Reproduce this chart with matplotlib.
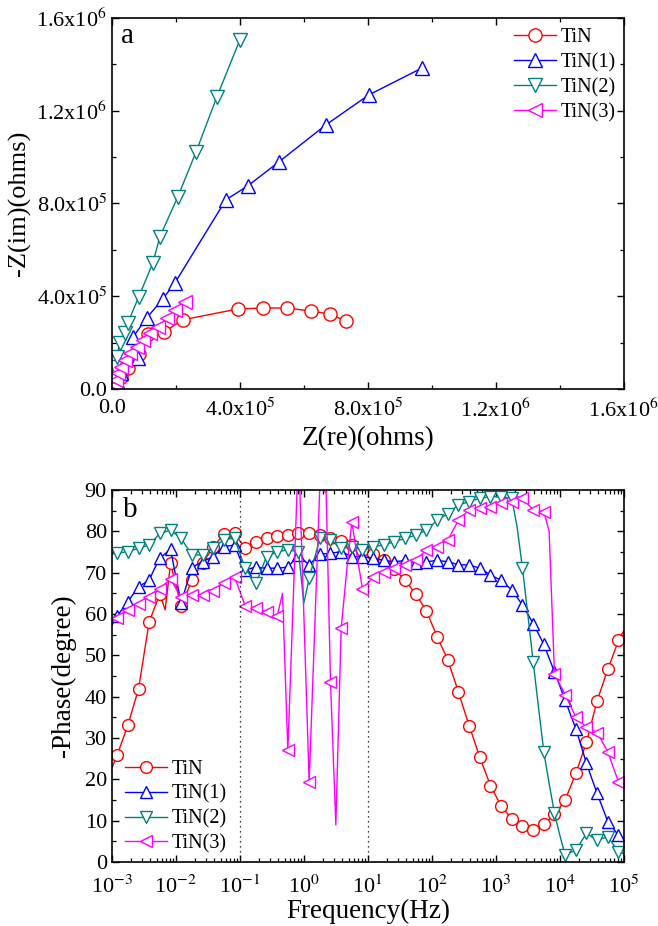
import matplotlib.pyplot as plt
import numpy as np
from matplotlib.ticker import FixedLocator, MultipleLocator, FuncFormatter, LogLocator, NullFormatter

plt.rcParams['font.family'] = ['Liberation Serif', 'DejaVu Serif']
plt.rcParams['mathtext.fontset'] = 'stix'

labels = ["TiN", "TiN(1)", "TiN(2)", "TiN(3)"]
colors = ["#FF0000", "#0000FF", "#008080", "#FF00FF"]
markers = ["o", "^", "v", "<"]

# ---- (a) Nyquist data, in units of 1e5 ohm ----
zre_tin = [0.05, 0.12, 0.28, 0.50, 0.84, 1.13, 1.63, 2.22, 3.94, 4.72, 5.47, 6.22, 6.81, 7.31]
zim_tin = [0.11, 0.26, 0.52, 0.90, 1.51, 2.37, 2.46, 2.98, 3.45, 3.49, 3.49, 3.36, 3.23, 2.93]
zre_tin1 = [0.05, 0.15, 0.30, 0.81, 0.66, 1.09, 1.59, 1.97, 3.56, 4.25, 5.22, 6.69, 8.03, 9.69]
zim_tin1 = [0.10, 0.35, 0.70, 1.34, 2.24, 3.06, 3.88, 4.57, 8.15, 8.76, 9.79, 11.39, 12.68, 13.84]
zre_tin2 = [0.02, 0.05, 0.09, 0.15, 0.25, 0.41, 0.50, 0.84, 1.28, 1.50, 2.06, 2.63, 3.28, 4.00]
zim_tin2 = [0.30, 0.60, 0.96, 1.39, 1.97, 2.40, 2.85, 3.97, 5.43, 6.56, 8.28, 10.22, 12.59, 15.05]
zre_tin3 = [0.01, 0.02, 0.03, 0.06, 0.09, 0.12, 0.19, 0.28, 0.41, 0.56, 0.78, 0.97, 1.19, 1.44, 1.72, 1.97, 2.28]
zim_tin3 = [0.01, 0.02, 0.04, 0.08, 0.17, 0.39, 0.69, 0.95, 1.25, 1.55, 1.81, 2.11, 2.42, 2.67, 3.06, 3.41, 3.75]

ticks_a = [0, 4e5, 8e5, 1.2e6, 1.6e6]
ticklabels_a = ["0.0", "4.0x10$^{5}$", "8.0x10$^{5}$", "1.2x10$^{6}$", "1.6x10$^{6}$"]

# ---- (b) Bode phase data: 12 points per decade from 1e-3 to 1e5 Hz ----
freq = np.logspace(-3, 5, 97)
phase_tin = [
    22.7, 25.9, 29.5, 33.1, 37.5, 41.9, 50.0, 58.1, 61.5, 64.8, 61.0, 72.3,
    67.0, 62.0, 65.0, 68.2, 70.3, 72.3, 74.2, 76.2, 77.8, 79.4, 79.5, 79.6,
    77.7, 75.9, 76.7, 77.5, 78.0, 78.4, 78.6, 78.9, 79.0, 79.1, 79.3, 79.6,
    79.6, 79.6, 79.3, 79.1, 78.8, 78.4, 78.0, 77.7, 77.2, 76.7, 76.1, 75.5,
    75.0, 74.5, 73.8, 73.0, 71.9, 70.8, 69.5, 68.2, 66.5, 64.8, 62.8, 60.7,
    57.6, 54.5, 51.7, 48.9, 45.0, 41.1, 37.0, 33.0, 29.2, 25.3, 21.9, 18.5,
    16.0, 13.6, 12.0, 10.4, 9.5, 8.7, 8.2, 7.7, 8.4, 9.1, 10.3, 11.5,
    13.2, 15.0, 18.2, 21.5, 25.2, 29.0, 34.0, 39.0, 42.8, 46.7, 50.1, 53.6,
    56.0]
phase_tin1 = [
    57.3, 59.5, 61.3, 63.0, 64.8, 66.6, 67.4, 68.2, 71.0, 73.5, 74.6, 75.7,
    69.0, 62.7, 67.0, 71.1, 72.0, 72.7, 73.3, 73.9, 75.1, 76.3, 76.5, 76.7,
    73.5, 70.7, 71.0, 71.4, 71.2, 71.1, 71.1, 71.1, 71.2, 71.4, 72.8, 74.3,
    73.0, 71.9, 73.2, 74.5, 74.6, 74.7, 74.9, 75.1, 74.5, 73.9, 73.9, 73.9,
    73.7, 73.5, 73.2, 73.0, 72.8, 72.7, 72.8, 73.0, 72.6, 72.3, 72.5, 72.7,
    72.8, 73.0, 72.8, 72.7, 72.3, 71.9, 71.9, 71.9, 71.5, 71.1, 70.3, 69.4,
    68.8, 68.2, 67.0, 65.8, 64.0, 62.2, 60.0, 57.7, 55.2, 52.7, 49.3, 46.0,
    42.6, 39.2, 35.7, 32.3, 28.1, 23.9, 20.2, 16.6, 13.2, 9.8, 8.1, 6.5,
    5.5]
phase_tin2 = [
    74.5, 74.7, 74.9, 75.1, 75.5, 75.9, 76.3, 76.7, 78.1, 79.5, 79.9, 80.3,
    79.3, 78.3, 76.3, 74.3, 74.3, 74.3, 75.1, 75.9, 77.0, 78.0, 78.2, 78.3,
    74.7, 71.1, 69.2, 67.4, 70.6, 73.9, 74.5, 75.0, 75.3, 75.5, 75.3, 75.1,
    62.6, 68.6, 73.5, 78.3, 78.1, 77.9, 76.9, 75.9, 76.1, 76.3, 75.9, 75.5,
    75.9, 76.3, 76.5, 76.7, 77.1, 77.5, 77.9, 78.3, 78.7, 79.1, 79.7, 80.3,
    81.5, 82.7, 83.5, 84.3, 85.4, 86.4, 86.8, 87.2, 87.6, 88.0, 88.2, 88.4,
    88.4, 88.4, 88.2, 88.0, 81.0, 71.1, 60.0, 48.5, 37.5, 26.7, 19.0, 11.8,
    6.5, 1.7, 2.3, 2.9, 4.9, 6.9, 6.1, 5.3, 5.7, 6.1, 4.3, 2.5,
    2.0]
phase_tin3 = [
    58.0, 59.0, 60.0, 61.0, 61.8, 62.5, 63.3, 64.0, 65.0, 66.0, 67.3, 68.5,
    66.2, 64.0, 64.3, 64.5, 64.5, 64.5, 65.0, 65.5, 66.5, 67.5, 68.3, 69.0,
    65.5, 62.0, 61.7, 61.5, 61.0, 60.5, 60.0, 59.5, 65.0, 27.0, 63.0, 100.0,
    60.0, 19.4, 55.0, 91.0, 100.0, 43.6, 9.0, 56.5, 70.0, 82.3, 74.0, 66.0,
    67.5, 69.0, 69.6, 70.2, 70.6, 71.1, 71.5, 71.9, 72.5, 73.1, 74.3, 75.5,
    75.9, 76.3, 77.1, 77.9, 80.3, 82.7, 84.0, 85.2, 85.4, 85.6, 85.8, 86.0,
    86.4, 86.8, 87.0, 87.2, 87.6, 88.0, 86.6, 85.2, 85.0, 84.8, 80.0, 45.6,
    43.0, 40.5, 37.8, 35.0, 33.8, 32.6, 32.0, 31.3, 29.0, 26.7, 23.0, 19.4,
    18.5]

fig = plt.figure(figsize=(6.58, 9.26), dpi=100)
ax1 = fig.add_axes([0.170, 0.580, 0.778, 0.4006])
ax2 = fig.add_axes([0.170, 0.0691, 0.778, 0.4017])

nyq = [(zre_tin, zim_tin), (zre_tin1, zim_tin1), (zre_tin2, zim_tin2), (zre_tin3, zim_tin3)]
for (zr, zi), lab, c, m in zip(nyq, labels, colors, markers):
    ax1.plot(np.array(zr) * 1e5, np.array(zi) * 1e5, color=c, marker=m, ms=9.5,
             mfc='white', mec=c, mew=1.0, lw=1.0, label=lab)

ax1.set_xlim(0, 1.6e6)
ax1.set_ylim(0, 1.6e6)
ax1.xaxis.set_major_locator(FixedLocator(ticks_a))
ax1.yaxis.set_major_locator(FixedLocator(ticks_a))
ax1.set_xticklabels(ticklabels_a)
ax1.set_yticklabels(ticklabels_a)
ax1.xaxis.set_minor_locator(MultipleLocator(2e5))
ax1.yaxis.set_minor_locator(MultipleLocator(2e5))
ax1.set_xlabel("Z(re)(ohms)", fontsize=19.5, labelpad=3)
ax1.set_ylabel("-Z(im)(ohms)", fontsize=19, labelpad=4)
ax1.text(0.018, 0.933, "a", transform=ax1.transAxes, fontsize=21, va='baseline')
ax1.legend(loc='upper left', bbox_to_anchor=(0.785, 0.972), frameon=False, fontsize=14.5,
           handlelength=2.1, handletextpad=0.25, labelspacing=0.28, borderpad=0, borderaxespad=0)

phases = [phase_tin, phase_tin1, phase_tin2, phase_tin3]
for ph, lab, c, m in zip(phases, labels, colors, markers):
    ax2.plot(freq, ph, color=c, marker=m, ms=8.5, markevery=(1, 2),
             mfc='white', mec=c, mew=1.0, lw=1.0, label=lab)

ax2.set_xscale('log')
ax2.set_xlim(1e-3, 1e5)
ax2.set_ylim(0, 90)
ax2.axvline(0.1, color='k', ls=(0, (1, 3)), lw=0.9)
ax2.axvline(10, color='k', ls=(0, (1, 3)), lw=0.9)
ax2.xaxis.set_major_locator(LogLocator(base=10, numticks=20))
ax2.xaxis.set_minor_locator(LogLocator(base=10, subs=np.arange(2, 10), numticks=20))
ax2.xaxis.set_minor_formatter(NullFormatter())
ax2.xaxis.set_major_formatter(FuncFormatter(lambda v, p: "10$^{%d}$" % int(round(np.log10(v)))))
ax2.yaxis.set_major_locator(MultipleLocator(10))
ax2.yaxis.set_minor_locator(MultipleLocator(5))
ax2.set_xlabel("Frequency(Hz)", fontsize=19.5, labelpad=0)
ax2.set_ylabel("-Phase(degree)", fontsize=19.5, labelpad=6)
ax2.text(0.021, 0.927, "b", transform=ax2.transAxes, fontsize=21, va='baseline')
ax2.legend(loc='lower left', bbox_to_anchor=(0.025, 0.023), frameon=False, fontsize=14.5,
           handlelength=2.1, handletextpad=0.25, labelspacing=0.28, borderpad=0, borderaxespad=0)

for ax in (ax1, ax2):
    ax.tick_params(which='both', direction='in', top=True, right=True, labelsize=16)
    ax.tick_params(which='major', length=5, width=1.0)
    ax.tick_params(which='minor', length=3, width=0.9)
    for s in ax.spines.values():
        s.set_linewidth(1.2)
ax1.tick_params(axis='x', which='major', pad=7)
ax2.tick_params(axis='x', which='major', pad=10)

plt.savefig("out.png", dpi=100)
